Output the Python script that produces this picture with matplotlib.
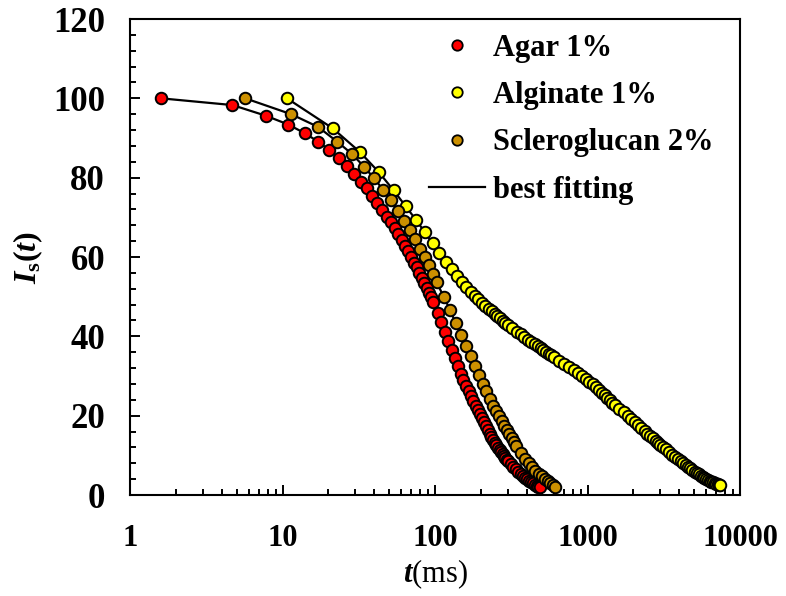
import matplotlib
matplotlib.use("Agg")
import matplotlib.pyplot as plt
from matplotlib.lines import Line2D
from matplotlib.ticker import FixedLocator, NullFormatter, LogLocator

plt.rcParams['font.family'] = ['Liberation Serif', 'DejaVu Serif']
plt.rcParams['font.weight'] = 'bold'
plt.rcParams['mathtext.fontset'] = 'custom'
plt.rcParams['mathtext.rm'] = 'Liberation Serif:bold'
plt.rcParams['mathtext.bf'] = 'Liberation Serif:bold'
plt.rcParams['mathtext.it'] = 'Liberation Serif:italic:bold'

# ---------------- data ----------------
agar_t = [1.6, 4.7, 7.8, 10.9, 14.0, 17.1, 20.2, 23.3, 26.4, 29.5, 32.6, 35.7, 38.8,
          41.9, 45.0, 48.1, 51.2, 54.3, 57.4, 60.5, 63.6, 66.7, 69.8, 72.9, 76.0,
          79.1, 82.2, 85.3, 88.4, 91.5, 94.6, 97.7,
          103.9, 110.1, 116.3, 122.5, 128.7, 134.9, 141.1, 147.3, 153.5, 159.7,
          165.9, 172.1, 178.3, 184.5, 190.7, 196.9, 203.1, 209.3, 215.5, 221.7,
          227.9, 234.1, 240.3, 246.5, 252.7, 258.9, 265.1, 271.3, 277.5, 283.7,
          289.9, 296.1, 302.3,
          314.7, 327.1, 339.5, 351.9, 364.3, 376.7, 389.1, 401.5, 413.9, 426.3,
          438.7, 451.1, 463.5, 475.9, 488.3]
agar_I = [100.0, 98.3, 95.6, 93.4, 91.2, 89.1, 87.0, 84.9, 82.9, 81.0, 79.0, 77.3, 75.4,
          73.6, 71.8, 70.2, 68.7, 67.2, 65.8, 64.3, 62.8, 61.4, 60.0, 58.6, 57.4,
          56.0, 54.8, 53.4, 52.2, 51.0, 49.8, 48.6,
          46.0, 43.5, 41.0, 38.8, 36.6, 34.5, 32.5, 30.6, 29.0, 27.6,
          26.2, 24.9, 23.7, 22.5, 21.4, 20.3, 19.3, 18.3, 17.3, 16.4,
          15.5, 14.7, 13.9, 13.2, 12.5, 11.9, 11.3, 10.8, 10.3, 9.8,
          9.3, 8.9, 8.5,
          7.8, 7.1, 6.5, 5.9, 5.4, 4.9, 4.4, 4.0, 3.6, 3.2,
          2.9, 2.6, 2.3, 2.1, 1.9]

alginate_t = [10.7, 21.4, 32.1, 42.8, 53.5, 64.2, 74.9, 85.6, 96.3, 107.0, 117.7,
              128.4, 139.1, 149.8, 160.5, 171.2, 181.9, 192.6, 203.3, 214.0, 224.7,
              235.4, 246.1, 256.8, 267.5, 278.2, 288.9, 299.6,
              321.0, 342.4, 363.8, 385.2, 406.6, 428.0, 449.4, 470.8, 492.2, 513.6,
              535.0, 556.4, 577.8, 599.2,
              652.7, 706.2, 759.7, 813.2, 866.7, 920.2, 973.7, 1027.2, 1080.7,
              1134.2, 1187.7, 1241.2, 1294.7, 1348.2, 1401.7, 1455.2, 1508.7,
              1615.7, 1722.7, 1829.7, 1936.7, 2043.7, 2150.7, 2257.7, 2364.7,
              2471.7, 2578.7, 2685.7, 2792.7, 2899.7, 3006.7, 3113.7,
              3274.2, 3434.7, 3595.2, 3755.7, 3916.2, 4076.7, 4237.2, 4397.7,
              4558.2, 4718.7, 4879.2, 5039.7, 5200.2, 5360.7, 5521.2, 5681.7,
              5842.2, 6002.7, 6163.2, 6323.7, 6484.2, 6644.7, 6805.2, 6965.7,
              7126.2, 7286.7, 7447.2]
alginate_I = [100.0, 92.4, 86.5, 81.4, 76.8, 72.8, 69.4, 66.3, 63.5, 61.0, 58.8,
              56.9, 55.2, 53.7, 52.4, 51.2, 50.2, 49.3, 48.5, 47.7, 47.0,
              46.3, 45.7, 45.1, 44.5, 43.9, 43.4, 42.9,
              42.0, 41.2, 40.5, 39.8, 39.2, 38.6, 38.0, 37.5, 37.0, 36.5,
              36.0, 35.6, 35.2, 34.8,
              33.9, 33.0, 32.2, 31.4, 30.7, 30.0, 29.3, 28.6, 27.9,
              27.2, 26.5, 25.8, 25.1, 24.5, 23.9, 23.3, 22.8,
              21.8, 20.9, 20.0, 19.2, 18.4, 17.6, 16.9, 16.2,
              15.5, 14.9, 14.3, 13.7, 13.2, 12.7, 12.2,
              11.5, 10.8, 10.2, 9.6, 9.0, 8.5, 8.0, 7.5,
              7.1, 6.7, 6.3, 5.9, 5.5, 5.2, 4.9, 4.6,
              4.3, 4.0, 3.8, 3.6, 3.4, 3.2, 3.0, 2.8,
              2.7, 2.5, 2.4]

sclero_t = [5.7, 11.4, 17.1, 22.8, 28.5, 34.2, 39.9, 45.6, 51.3, 57.0, 62.7, 68.4,
            74.1, 79.8, 85.5, 91.2, 96.9, 102.6,
            114.0, 125.4, 136.8, 148.2, 159.6, 171.0, 182.4, 193.8, 205.2, 216.6,
            228.0, 239.4, 250.8, 262.2, 273.6, 285.0, 296.4, 307.8, 319.2, 330.6,
            342.0,
            364.8, 387.6, 410.4, 433.2, 456.0, 478.8, 501.6, 524.4, 547.2, 570.0,
            592.8, 615.6]
sclero_I = [100.0, 96.0, 92.8, 89.1, 86.0, 82.8, 79.8, 77.0, 74.3, 71.7, 69.2, 66.8,
            64.5, 62.1, 60.0, 57.9, 55.8, 53.6,
            50.0, 46.7, 43.3, 40.4, 37.6, 35.0, 32.5, 30.2, 28.1, 26.1,
            24.2, 22.5, 21.2, 19.9, 18.7, 17.5, 16.4, 15.3, 14.3, 13.3,
            12.3,
            10.6, 9.2, 8.0, 7.0, 6.1, 5.3, 4.7, 4.1, 3.6, 3.1,
            2.5, 2.1]

series_names = ['Agar 1%', 'Alginate 1%', 'Scleroglucan 2%']
series_colors = ['#FF0000', '#FFFF00', '#CC9000']
fit_label = 'best fitting'

x_ticks = [1, 10, 100, 1000, 10000]
x_tick_labels = ['1', '10', '100', '1000', '10000']
y_ticks = [0, 20, 40, 60, 80, 100, 120]

# ---------------- figure ----------------
fig = plt.figure(figsize=(7.86, 5.96), dpi=100)
ax = fig.add_axes([130 / 786, 101 / 596, 610 / 786, 476 / 596])

data = [(agar_t, agar_I), (alginate_t, alginate_I), (sclero_t, sclero_I)]

# fitted curves (under the markers)
for t, I in data:
    ax.plot(t, I, color='black', lw=1.6, zorder=2, solid_joinstyle='round')

MS, MEW = 8.3, 1.4
handles = []
for (t, I), name, col in zip(data, series_names, series_colors):
    ax.plot(t, I, linestyle='none', marker='o', ms=MS, mfc=col, mec='black',
            mew=MEW, zorder=3)
    handles.append(Line2D([], [], linestyle='none', marker='o', ms=7.5, mfc=col,
                          mec='black', mew=1.3, label=name))
handles.append(Line2D([], [], color='black', lw=1.6, label=fit_label))

ax.set_xscale('log')
ax.set_xlim(1, 10000)
ax.set_ylim(0, 120)

ax.xaxis.set_major_locator(FixedLocator(x_ticks))
ax.set_xticklabels(x_tick_labels)
ax.xaxis.set_minor_locator(LogLocator(base=10, subs=[2, 3, 4, 5, 6, 7, 8, 9], numticks=20))
ax.xaxis.set_minor_formatter(NullFormatter())
ax.set_yticks(y_ticks)
ax.yaxis.set_minor_locator(FixedLocator([v for v in range(0, 121, 4)]))

ax.tick_params(axis='both', which='major', direction='in', length=7, width=1.4,
               labelsize=22)
ax.tick_params(axis='y', which='major', labelsize=25)
ax.tick_params(axis='both', which='minor', direction='in', length=4.5, width=1.4)
ax.tick_params(axis='x', which='major', pad=21)
ax.tick_params(axis='y', which='major', pad=18)
for lab in ax.get_xticklabels() + ax.get_yticklabels():
    lab.set_fontweight('bold')

for s in ax.spines.values():
    s.set_linewidth(1.5)

ax.set_xlabel(r'$t$(ms)', fontsize=22, fontweight='normal', labelpad=3)
ax.set_ylabel(r'$I_{\mathrm{s}}$($t$)', fontsize=23, fontweight='bold', labelpad=6)

leg = ax.legend(handles=handles, loc='upper left', bbox_to_anchor=(0.47, 0.995),
                frameon=False, handlelength=1.85, handletextpad=0.25,
                labelspacing=0.6, borderaxespad=0.2, borderpad=0.2, numpoints=1,
                prop={'family': 'Liberation Serif', 'weight': 'bold', 'size': 22})

fig.savefig('out.png', dpi=100)
